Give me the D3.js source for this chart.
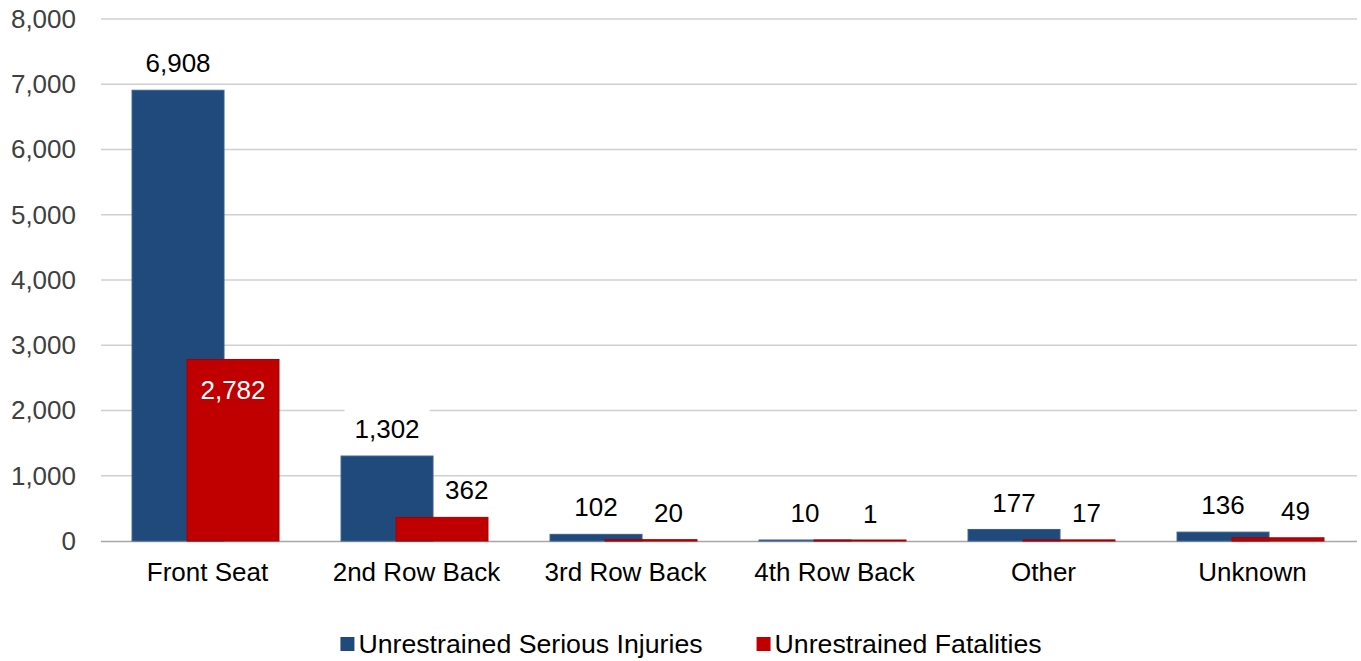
<!DOCTYPE html>
<html>
<head>
<meta charset="utf-8">
<script src="https://cdn.jsdelivr.net/npm/d3@7"></script>
<style>
  html, body { margin: 0; padding: 0; background: #fff; }
  text { font-family: "Liberation Sans", Arial, sans-serif; }
</style>
</head>
<body>
<div id="content"></div>
<script>
// chart values
var categories = ['Front Seat', '2nd Row Back', '3rd Row Back', '4th Row Back', 'Other', 'Unknown'],
    seriesNames = ['Unrestrained Serious Injuries', 'Unrestrained Fatalities'],
    injuries = [6908, 1302, 102, 10, 177, 136],
    fatalities = [2782, 362, 20, 1, 17, 49],
    yTicks = [0, 1000, 2000, 3000, 4000, 5000, 6000, 7000, 8000];

var width = 1361,
    height = 661,
    colors = ['#204a7b', '#c00000'],
    strokes = ['#3a5f8c', '#a00000'],
    fontSize = 26,
    fmt = d3.format(','),

    xScale = d3.scaleBand().domain(categories).range([103, 1357]),
    // the two bars overlap inside each group
    sScale = d3.scalePoint().domain(d3.range(seriesNames.length))
        .range([xScale.bandwidth() * 0.139, xScale.bandwidth() * 0.402]),
    barW = xScale.bandwidth() * 0.44,
    yScale = d3.scaleLinear().domain([0, 8000]).range([541, 19]),

    svg = d3.select('#content').append('svg')
        .attr('width', width)
        .attr('height', height);

// gridlines
svg.append('g').attr('class', 'grid')
    .selectAll('line')
    .data(yTicks.filter(function(d){ return d > 0; }))
    .enter().append('line')
    .attr('x1', 101).attr('x2', 1357)
    .attr('y1', function(d){ return yScale(d); })
    .attr('y2', function(d){ return yScale(d); })
    .attr('stroke', '#d0d0d0')
    .attr('stroke-width', 1.5);

// x axis line, under the bars
svg.append('line')
    .attr('x1', 101).attr('x2', 1357)
    .attr('y1', yScale(0) + 0.5).attr('y2', yScale(0) + 0.5)
    .attr('stroke', '#a6a6a6')
    .attr('stroke-width', 1.5);

// y axis labels
var yAxis = d3.axisLeft(yScale).tickValues(yTicks).tickFormat(fmt).tickSize(0).tickPadding(0);
var yG = svg.append('g').attr('transform', 'translate(76,0)').call(yAxis);
yG.select('.domain').remove();
yG.selectAll('text')
    .attr('fill', '#404040')
    .style('font-size', fontSize + 'px')
    .style('font-family', '"Liberation Sans", Arial, sans-serif');

var rows = categories.map(function(c, i){
    return { cat: c, values: [injuries[i], fatalities[i]] };
});

var groups = svg.selectAll('g.cat')
    .data(rows)
    .enter().append('g')
    .attr('class', 'cat')
    .attr('transform', function(d){ return 'translate(' + xScale(d.cat) + ',0)'; });

groups.selectAll('rect')
    .data(function(d){ return d.values; })
    .enter().append('rect')
    .attr('x', function(d, i){ return sScale(i); })
    .attr('y', function(d){ return Math.min(yScale(d), yScale(0) - 1); })
    .attr('width', barW)
    .attr('height', function(d){ return Math.max(1, yScale(0) - yScale(d)); })
    .attr('fill', function(d, i){ return colors[i]; })
    .attr('stroke', function(d, i){ return strokes[i]; })
    .attr('stroke-width', 1);

// category labels
var xAxis = d3.axisBottom(xScale).tickSize(0).tickPadding(0);
var xG = svg.append('g').attr('transform', 'translate(0,563)').call(xAxis);
xG.select('.domain').remove();
xG.selectAll('text')
    .attr('fill', '#000')
    .attr('dy', '0.71em')
    .style('font-size', fontSize + 'px')
    .style('font-family', '"Liberation Sans", Arial, sans-serif');

// data labels; the injuries labels sit on white boxes
var labelG = svg.append('g').attr('class', 'labels');
rows.forEach(function(row){
    var g0 = xScale(row.cat);
    var blueRight = g0 + sScale(0) + barW;
    row.values.forEach(function(v, i){
        var cx = g0 + sScale(i) + barW / 2,
            top = yScale(v),
            inside = i === 1 && (yScale(0) - top) > 3 * fontSize,
            cy = inside ? top + 30 : top - 27;

        var t = labelG.append('text')
            .attr('text-anchor', 'middle')
            .attr('dy', '0.35em')
            .style('font-size', fontSize + 'px')
            .attr('fill', inside ? '#fff' : '#000')
            .text(fmt(v));
        var w = t.node().getComputedTextLength();
        if(i === 1 && !inside) {
            // push the label clear of the neighbouring bar
            cx = Math.max(cx, blueRight + 12 + w / 2);
        }
        t.attr('x', cx).attr('y', cy);
        if(i === 0) {
            labelG.insert('rect', function(){ return t.node(); })
                .attr('x', cx - w / 2 - 10)
                .attr('y', cy - 20)
                .attr('width', w + 20)
                .attr('height', 38)
                .attr('fill', '#fff');
        }
    });
});

// legend
var legendFont = 26.7;
var legend = svg.append('g').attr('class', 'legend');
var items = legend.selectAll('g')
    .data(seriesNames)
    .enter().append('g');
items.append('rect')
    .attr('width', 14).attr('height', 14)
    .attr('y', -7)
    .attr('fill', function(d, i){ return colors[i]; });
items.append('text')
    .attr('x', 18)
    .attr('dy', '0.35em')
    .style('font-size', legendFont + 'px')
    .attr('fill', '#000')
    .text(function(d){ return d; });

var xPos = 0, offsets = [];
items.each(function(){
    offsets.push(xPos);
    xPos += this.getBBox().width + 54;
});
var total = xPos - 54;
var start = 691 - total / 2;
items.attr('transform', function(d, i){ return 'translate(' + (start + offsets[i]) + ',644)'; });
</script>
</body>
</html>
